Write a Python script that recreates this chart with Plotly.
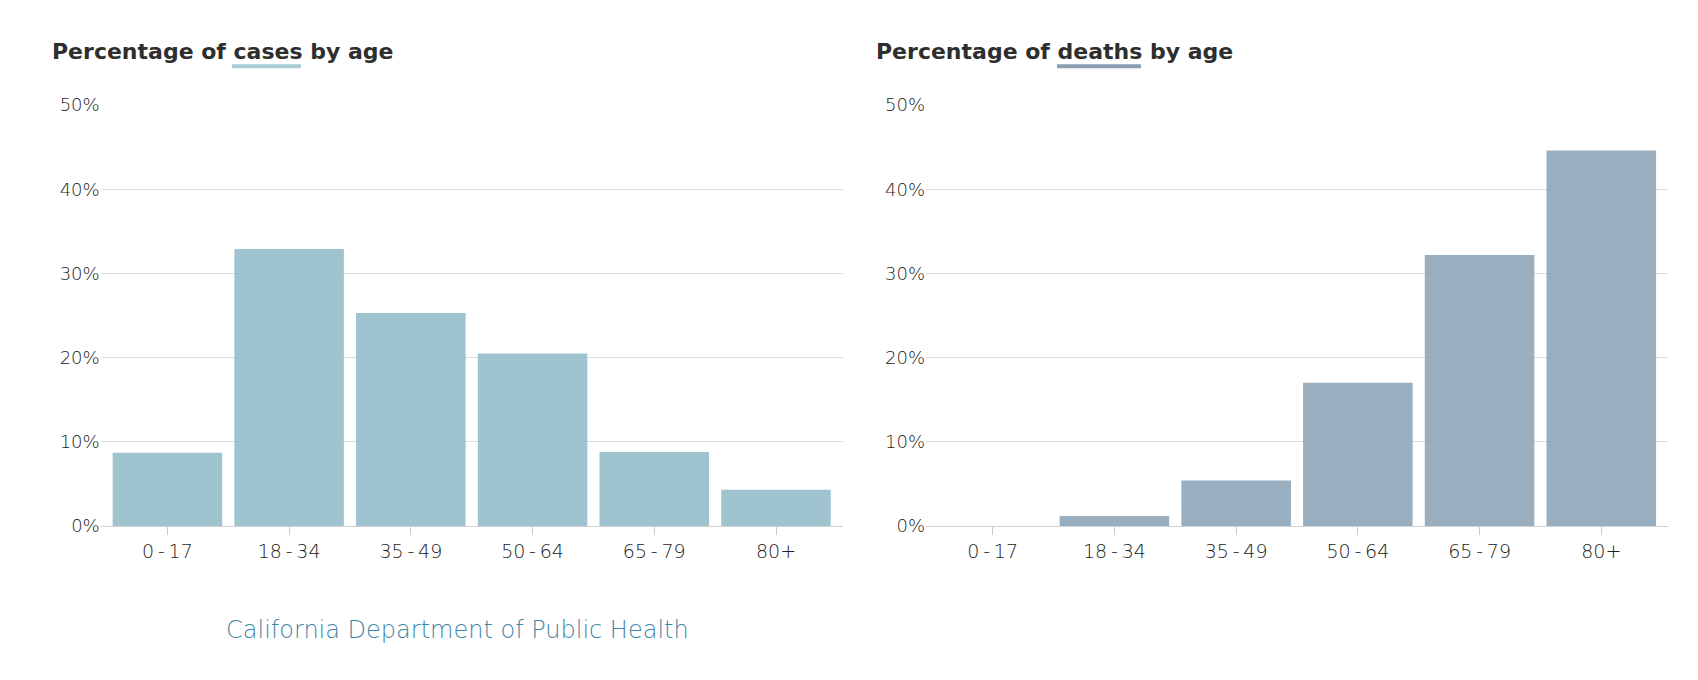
import plotly.graph_objects as go
from plotly.subplots import make_subplots

age_groups = ["0-17", "18-34", "35-49", "50-64", "65-79", "80+"]
cases_pct = [8.7, 32.9, 25.3, 20.5, 8.8, 4.3]
deaths_pct = [0.0, 1.2, 5.4, 17.0, 32.2, 44.6]
y_ticks = [0, 10, 20, 30, 40, 50]
y_tick_labels = ["0%", "10%", "20%", "30%", "40%", "50%"]

W, H = 1698, 680
TOP, BOTTOM = 97.3, 517.7  # pixel rows of the 50% and 0% lines

CASES_COLOR = "rgb(149,190,203)"
DEATHS_COLOR = "rgb(143,166,184)"
TEXT_COLOR = "#2e2e2e"
GRID_COLOR = "#dcdcdc"
FONT = "DejaVu Sans"


def px_x(px):
    return px / W


def px_y(py):
    return (BOTTOM - py) / (BOTTOM - TOP)


# hyphens in the age labels are set with thin spaces round them
tick_text = [a.replace("-", "\u2009-\u2009") for a in age_groups]

fig = make_subplots(rows=1, cols=2)

fig.add_trace(go.Bar(
    x=age_groups, y=cases_pct, marker=dict(color=CASES_COLOR, line=dict(width=0)),
    opacity=0.9, name="Cases", hovertemplate="%{x}: %{y:.1f}%<extra></extra>"
), row=1, col=1)

fig.add_trace(go.Bar(
    x=age_groups, y=deaths_pct, marker=dict(color=DEATHS_COLOR, line=dict(width=0)),
    opacity=0.9, name="Deaths", hovertemplate="%{x}: %{y:.1f}%<extra></extra>"
), row=1, col=2)

fig.update_layout(
    width=W, height=H,
    margin=dict(l=0, r=0, t=TOP, b=H - BOTTOM),
    plot_bgcolor="white", paper_bgcolor="white",
    showlegend=False, bargap=0.1,
    font=dict(family=FONT, size=18, color="#2a2a2a"),
    xaxis=dict(domain=[px_x(92.7), px_x(834.7)]),
    xaxis2=dict(domain=[px_x(918), px_x(1660)]),
)

tick_font = dict(family=FONT, size=18, color="#222222", weight=300)

fig.update_xaxes(
    range=[-0.548, 5.548], showgrid=False, ticks="outside", ticklen=8, tickcolor="#cccccc",
    showline=True, linecolor="#d0d0d0", linewidth=1,
    tickvals=age_groups, ticktext=tick_text,
    tickfont=dict(tick_font, size=19), fixedrange=True,
)
fig.update_yaxes(
    range=[0, 50], tickvals=y_ticks, ticktext=y_tick_labels, showgrid=True,
    gridcolor=GRID_COLOR, gridwidth=1, zeroline=False, showline=False,
    tickfont=tick_font, ticklabelstandoff=0, fixedrange=True,
)

title_font = dict(family=FONT, size=22, color=TEXT_COLOR, weight="bold")
fig.add_annotation(text="Percentage of cases by age", xref="paper", yref="paper",
                   x=px_x(41.5), y=px_y(43.5), xanchor="left", yanchor="middle",
                   showarrow=False, font=title_font)
fig.add_annotation(text="Percentage of deaths by age", xref="paper", yref="paper",
                   x=px_x(866), y=px_y(43.5), xanchor="left", yanchor="middle",
                   showarrow=False, font=title_font)

# underlines acting as colour keys
fig.add_shape(type="line", xref="paper", yref="paper",
              x0=px_x(224), x1=px_x(293), y0=px_y(58.5), y1=px_y(58.5),
              line=dict(color="#a9cdd6", width=4))
fig.add_shape(type="line", xref="paper", yref="paper",
              x0=px_x(1049), x1=px_x(1133), y0=px_y(58.5), y1=px_y(58.5),
              line=dict(color="#8aa0b2", width=4))

fig.add_annotation(text="California Department of Public Health", xref="paper", yref="paper",
                   x=px_x(449), y=px_y(622), xanchor="center", yanchor="middle",
                   showarrow=False, font=dict(family=FONT, size=24, color="#3f86a5", weight=300))

fig.write_html("out.html")
